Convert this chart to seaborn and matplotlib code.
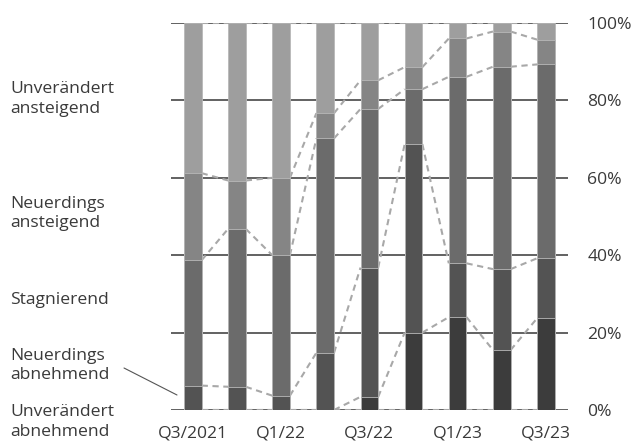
import pandas as pd
import matplotlib.pyplot as plt
import seaborn as sns

# quarters on the x axis, only every second one is labelled
quarters = ['Q3/2021', 'Q4/21', 'Q1/22', 'Q2/22', 'Q3/22', 'Q4/22', 'Q1/23', 'Q2/23', 'Q3/23']
shown = ['Q3/2021', '', 'Q1/22', '', 'Q3/22', '', 'Q1/23', '', 'Q3/23']

# shares in percent, bottom to top
unv_abn = [0, 0, 0, 0, 3.4, 20.0, 24.0, 15.5, 23.7]
neu_abn = [6.3, 6.0, 3.7, 14.8, 33.4, 48.7, 13.9, 20.9, 15.5]
stag = [32.4, 40.8, 36.3, 55.4, 41.0, 14.2, 48.2, 52.3, 50.1]
neu_ans = [22.5, 12.5, 20.0, 6.5, 7.4, 5.7, 9.9, 9.1, 6.4]
unv_ans = [38.8, 40.7, 40.0, 23.3, 14.8, 11.4, 4.0, 2.2, 4.3]

names = ['Unverändert\nabnehmend', 'Neuerdings\nabnehmend', 'Stagnierend',
         'Neuerdings\nansteigend', 'Unverändert\nansteigend']
colors = ['#3c3c3c', '#535353', '#6b6b6b', '#858585', '#9e9e9e']

sns.set_style('white')
plt.rcParams['font.family'] = ['Open Sans', 'DejaVu Sans']
txt = '#3a3a3a'
fs = 12.6

df = pd.DataFrame({'Quartal': quarters, 'UA': unv_abn, 'NA': neu_abn,
                   'ST': stag, 'NS': neu_ans, 'US': unv_ans})
cols = ['UA', 'NA', 'ST', 'NS', 'US']
cum = df[cols].cumsum(axis=1)

fig = plt.figure(figsize=(6.38, 4.45), dpi=100)
ax = fig.add_axes([0.2676, 0.0787, 0.8903 - 0.2676, 0.9483 - 0.0787])

width = 0.4
# stacked bars: draw cumulative totals from the top down so each one covers the next
for k in range(len(cols) - 1, -1, -1):
    sns.barplot(x=df['Quartal'], y=cum[cols[k]], color=colors[k], width=width,
                edgecolor='#b8b8b8', linewidth=0.6, saturation=1, ax=ax, zorder=3)

# dashed connectors between neighbouring bars at each boundary
bounds = [[0] * len(quarters)] + [cum[c].tolist() for c in cols]
for b in bounds:
    for i in range(len(quarters) - 1):
        ax.plot([i + width / 2, i + 1 - width / 2], [b[i], b[i + 1]],
                color='#a8a8a8', lw=1.5, dashes=(3, 2.2), zorder=2.5)

ax.set_xlim(-0.5, len(quarters) - 0.5)
ax.set_ylim(0, 100)
ax.set_yticks(range(0, 101, 20))
ax.set_yticklabels([f'{v}%' for v in range(0, 101, 20)])
ax.yaxis.tick_right()
ax.set_xticks(range(len(quarters)))
ax.set_xticklabels(shown)
ax.tick_params(axis='y', length=0, pad=14, labelsize=fs, labelcolor=txt)
ax.tick_params(axis='x', length=0, pad=11, labelsize=fs, labelcolor=txt)
ax.yaxis.grid(True, color='#555555', lw=1.3, zorder=1)
ax.set_axisbelow(True)
for s in ax.spines.values():
    s.set_visible(False)
ax.set_xlabel('')
ax.set_ylabel('')

# category labels on the left
label_y = [422, 365.5, 300, 213.5, 99]
for name, y in zip(names, label_y):
    fig.text(10 / 638, 1 - y / 445, name, ha='left', va='center',
             fontsize=fs, color=txt, linespacing=1.3)
fig.add_artist(plt.Line2D([124 / 638, 177 / 638], [1 - 368 / 445, 1 - 395 / 445],
                          color='#555555', lw=0.8))

fig.savefig('out.png', dpi=100)
